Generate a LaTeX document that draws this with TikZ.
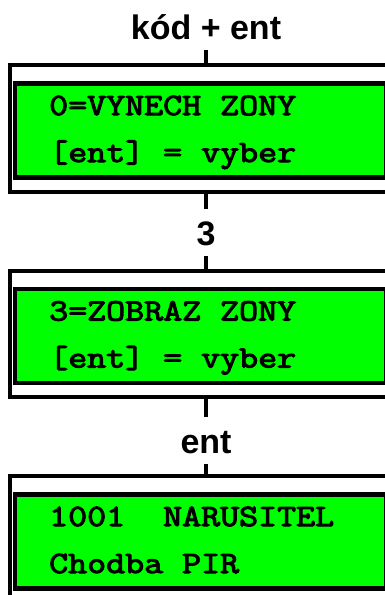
\documentclass[tikz,border=0pt]{standalone}
\usepackage{fontspec}
\setmainfont{Liberation Sans}
\newfontfamily\lcdfont[FakeBold=3.5,FakeStretch=1.19]{Latin Modern Mono}
\definecolor{lcdgreen}{RGB}{0,255,0}
\tikzset{
  frame/.style={draw=black, line width=4pt, fill=white, rectangle, inner sep=0pt, minimum width=392pt, minimum height=126.5pt},
  lcd/.style={draw=black, line width=4.5pt, fill=lcdgreen, rectangle, inner sep=0pt, minimum width=371pt, minimum height=94pt},
  lcdtext/.style={anchor=base west, inner sep=0pt, font=\lcdfont\fontsize{31}{36}\selectfont},
  keylabel/.style={anchor=base, inner xsep=2pt, inner ysep=11pt, text height=25pt, text depth=0pt, font=\bfseries\fontsize{34}{40}\selectfont},
  link/.style={line width=4pt}
}
\begin{document}
\begin{tikzpicture}[x=1pt, y=-1pt]
  \useasboundingbox (0,0) rectangle (385,595);
  \clip (0,0) rectangle (385,595);
  % labels
  \node[keylabel] (l1) at (206,39) {kód + ent};
  \node[keylabel] (l2) at (206,245) {3};
  \node[keylabel] (l3) at (206,453) {ent};
  % box 1
  \node[frame] (o1) at (206,128.25) {};
  \node[lcd] (g1) at (200.5,130.5) {};
  \node[lcdtext] (t1a) at (49,115) {0=VYNECH ZONY};
  \node[lcdtext] (t1b) at (49,162) {[ent] = vyber};
  % box 2
  \node[frame] (o2) at (206,333.75) {};
  \node[lcd] (g2) at (200.5,336) {};
  \node[lcdtext] (t2a) at (49,320.5) {3=ZOBRAZ ZONY};
  \node[lcdtext] (t2b) at (49,367.5) {[ent] = vyber};
  % box 3
  \node[frame] (o3) at (206,539.25) {};
  \node[lcd] (g3) at (200.5,541.5) {};
  \node[lcdtext] (t3a) at (49,526) {1001\ \ NARUSITEL};
  \node[lcdtext] (t3b) at (49,573) {Chodba PIR};
  % connectors
  \draw[link] (l1.south) -- (o1.north);
  \draw[link] (o1.south) -- (l2.north);
  \draw[link] (l2.south) -- (o2.north);
  \draw[link] (o2.south) -- (l3.north);
  \draw[link] (l3.south) -- (o3.north);
\end{tikzpicture}
\end{document}
